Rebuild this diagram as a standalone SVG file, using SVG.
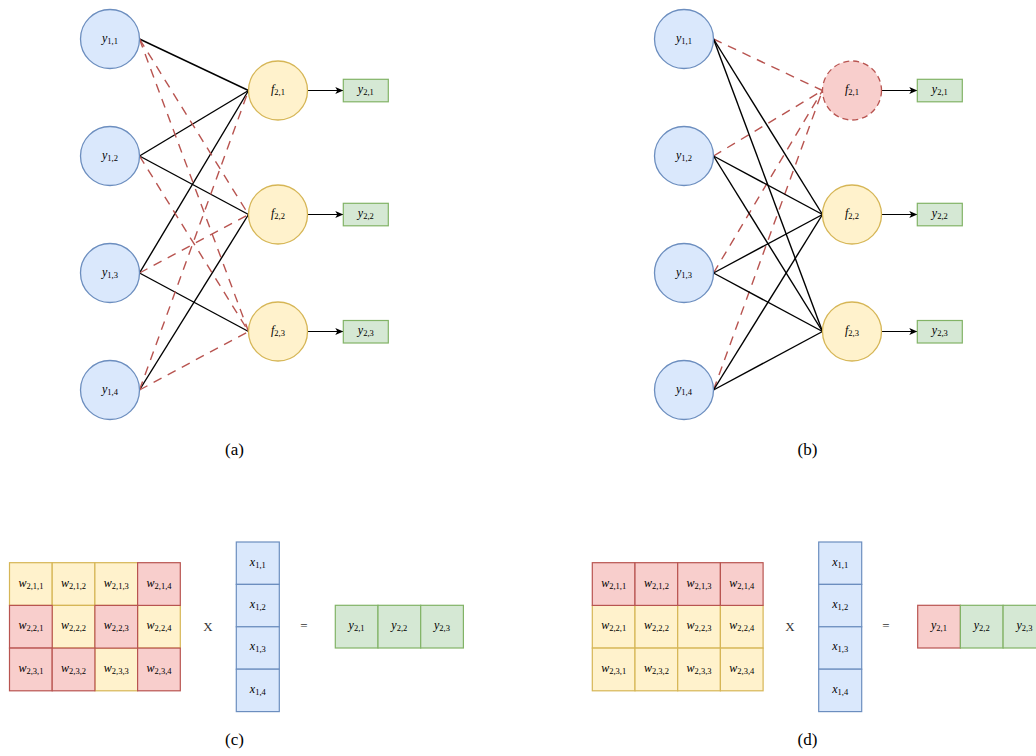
<svg xmlns="http://www.w3.org/2000/svg" width="1036" height="756" viewBox="0 0 1036 756">
<defs>
<marker id="arr" markerWidth="9" markerHeight="8" refX="8" refY="3.5" orient="auto" markerUnits="userSpaceOnUse">
<path d="M0,0 L8,3.5 L0,7 L2,3.5 Z" fill="#000"/>
</marker>
</defs>
<style>
.in{fill:#dae8fc;stroke:#6c8ebf;stroke-width:1.3}
.fn{fill:#fff2cc;stroke:#d6b656;stroke-width:1.3}
.fr{fill:#f8cecc;stroke:#b85450;stroke-width:1.3;stroke-dasharray:6 4}
.gr{fill:#d5e8d4;stroke:#82b366;stroke-width:1.2}
.ye{fill:#fff2cc;stroke:#d6b656;stroke-width:1.2}
.re{fill:#f8cecc;stroke:#b85450;stroke-width:1.2}
.bl{fill:#dae8fc;stroke:#6c8ebf;stroke-width:1.2}
.s{stroke:#000;stroke-width:1.4;fill:none}
.d{stroke:#b85450;stroke-width:1.4;stroke-dasharray:9 7;fill:none}
.o{stroke:#000;stroke-width:1.2;fill:none;marker-end:url(#arr)}
.m{font-family:"Liberation Serif",serif;font-size:12px;text-anchor:middle;fill:#000}
.v{font-style:italic}
.sb{font-size:8.5px}
.cap{font-family:"Liberation Serif",serif;font-size:17px;text-anchor:middle;fill:#000}
.op{font-family:"Liberation Serif",serif;font-size:13px;text-anchor:middle;fill:#333}
</style>

<g id="connectors">
<line class="s" x1="139.5" y1="39" x2="248.5" y2="90.5"/>
<line class="s" x1="139.5" y1="156" x2="248.5" y2="90.5"/>
<line class="s" x1="139.5" y1="273" x2="248.5" y2="90.5"/>
<line class="s" x1="139.5" y1="156" x2="248.5" y2="214.5"/>
<line class="s" x1="139.5" y1="390" x2="248.5" y2="214.5"/>
<line class="s" x1="139.5" y1="273" x2="248.5" y2="331.5"/>
<line class="d" x1="139.5" y1="390" x2="248.5" y2="90.5"/>
<line class="d" x1="139.5" y1="39" x2="248.5" y2="214.5"/>
<line class="d" x1="139.5" y1="273" x2="248.5" y2="214.5"/>
<line class="d" x1="139.5" y1="39" x2="248.5" y2="331.5"/>
<line class="d" x1="139.5" y1="156" x2="248.5" y2="331.5"/>
<line class="d" x1="139.5" y1="390" x2="248.5" y2="331.5"/>
<line class="o" x1="307.5" y1="90.5" x2="343.3" y2="90.5"/>
<line class="o" x1="307.5" y1="214.5" x2="343.3" y2="214.5"/>
<line class="o" x1="307.5" y1="331.5" x2="343.3" y2="331.5"/>
<line class="d" x1="713.5" y1="39" x2="822.5" y2="90.5"/>
<line class="d" x1="713.5" y1="156" x2="822.5" y2="90.5"/>
<line class="d" x1="713.5" y1="273" x2="822.5" y2="90.5"/>
<line class="d" x1="713.5" y1="390" x2="822.5" y2="90.5"/>
<line class="s" x1="713.5" y1="39" x2="822.5" y2="214.5"/>
<line class="s" x1="713.5" y1="156" x2="822.5" y2="214.5"/>
<line class="s" x1="713.5" y1="273" x2="822.5" y2="214.5"/>
<line class="s" x1="713.5" y1="390" x2="822.5" y2="214.5"/>
<line class="s" x1="713.5" y1="39" x2="822.5" y2="331.5"/>
<line class="s" x1="713.5" y1="156" x2="822.5" y2="331.5"/>
<line class="s" x1="713.5" y1="273" x2="822.5" y2="331.5"/>
<line class="s" x1="713.5" y1="390" x2="822.5" y2="331.5"/>
<line class="o" x1="881.5" y1="90.5" x2="917.3" y2="90.5"/>
<line class="o" x1="881.5" y1="214.5" x2="917.3" y2="214.5"/>
<line class="o" x1="881.5" y1="331.5" x2="917.3" y2="331.5"/>
</g>

<g id="a-y11"><circle class="in" cx="110" cy="39" r="29.5"/><text class="m" x="110" y="41.5"><tspan class="v">y</tspan><tspan class="sb" dy="2">1,1</tspan></text></g>
<g id="a-y12"><circle class="in" cx="110" cy="156" r="29.5"/><text class="m" x="110" y="158.5"><tspan class="v">y</tspan><tspan class="sb" dy="2">1,2</tspan></text></g>
<g id="a-y13"><circle class="in" cx="110" cy="273" r="29.5"/><text class="m" x="110" y="275.5"><tspan class="v">y</tspan><tspan class="sb" dy="2">1,3</tspan></text></g>
<g id="a-y14"><circle class="in" cx="110" cy="390" r="29.5"/><text class="m" x="110" y="392.5"><tspan class="v">y</tspan><tspan class="sb" dy="2">1,4</tspan></text></g>
<g id="a-f21"><circle class="fn" cx="278" cy="90.5" r="29.5"/><text class="m" x="278" y="93"><tspan class="v">f</tspan><tspan class="sb" dy="2">2,1</tspan></text></g>
<g id="a-f22"><circle class="fn" cx="278" cy="214.5" r="29.5"/><text class="m" x="278" y="217"><tspan class="v">f</tspan><tspan class="sb" dy="2">2,2</tspan></text></g>
<g id="a-f23"><circle class="fn" cx="278" cy="331.5" r="29.5"/><text class="m" x="278" y="334"><tspan class="v">f</tspan><tspan class="sb" dy="2">2,3</tspan></text></g>
<g id="a-o21"><rect class="gr" x="343.3" y="79.3" width="45" height="22.5"/><text class="m" x="365.8" y="92.5"><tspan class="v">y</tspan><tspan class="sb" dy="2">2,1</tspan></text></g>
<g id="a-o22"><rect class="gr" x="343.3" y="203.3" width="45" height="22.5"/><text class="m" x="365.8" y="216.5"><tspan class="v">y</tspan><tspan class="sb" dy="2">2,2</tspan></text></g>
<g id="a-o23"><rect class="gr" x="343.3" y="320.5" width="45" height="22.5"/><text class="m" x="365.8" y="333.5"><tspan class="v">y</tspan><tspan class="sb" dy="2">2,3</tspan></text></g>
<text class="cap" x="234.5" y="455">(a)</text>

<g id="b-y11"><circle class="in" cx="684" cy="39" r="29.5"/><text class="m" x="684" y="41.5"><tspan class="v">y</tspan><tspan class="sb" dy="2">1,1</tspan></text></g>
<g id="b-y12"><circle class="in" cx="684" cy="156" r="29.5"/><text class="m" x="684" y="158.5"><tspan class="v">y</tspan><tspan class="sb" dy="2">1,2</tspan></text></g>
<g id="b-y13"><circle class="in" cx="684" cy="273" r="29.5"/><text class="m" x="684" y="275.5"><tspan class="v">y</tspan><tspan class="sb" dy="2">1,3</tspan></text></g>
<g id="b-y14"><circle class="in" cx="684" cy="390" r="29.5"/><text class="m" x="684" y="392.5"><tspan class="v">y</tspan><tspan class="sb" dy="2">1,4</tspan></text></g>
<g id="b-f21"><circle class="fr" cx="852" cy="90.5" r="29.5"/><text class="m" x="852" y="93"><tspan class="v">f</tspan><tspan class="sb" dy="2">2,1</tspan></text></g>
<g id="b-f22"><circle class="fn" cx="852" cy="214.5" r="29.5"/><text class="m" x="852" y="217"><tspan class="v">f</tspan><tspan class="sb" dy="2">2,2</tspan></text></g>
<g id="b-f23"><circle class="fn" cx="852" cy="331.5" r="29.5"/><text class="m" x="852" y="334"><tspan class="v">f</tspan><tspan class="sb" dy="2">2,3</tspan></text></g>
<g id="b-o21"><rect class="gr" x="917.3" y="79.3" width="45" height="22.5"/><text class="m" x="939.8" y="92.5"><tspan class="v">y</tspan><tspan class="sb" dy="2">2,1</tspan></text></g>
<g id="b-o22"><rect class="gr" x="917.3" y="203.3" width="45" height="22.5"/><text class="m" x="939.8" y="216.5"><tspan class="v">y</tspan><tspan class="sb" dy="2">2,2</tspan></text></g>
<g id="b-o23"><rect class="gr" x="917.3" y="320.5" width="45" height="22.5"/><text class="m" x="939.8" y="333.5"><tspan class="v">y</tspan><tspan class="sb" dy="2">2,3</tspan></text></g>
<text class="cap" x="807.5" y="455">(b)</text>

<g id="c-matrix">
<rect class="ye" x="9.5" y="562.7" width="42.7" height="42.7"/>
<rect class="ye" x="52.2" y="562.7" width="42.7" height="42.7"/>
<rect class="ye" x="94.9" y="562.7" width="42.7" height="42.7"/>
<rect class="ye" x="52.2" y="605.4" width="42.7" height="42.7"/>
<rect class="ye" x="137.6" y="605.4" width="42.7" height="42.7"/>
<rect class="ye" x="94.9" y="648.1" width="42.7" height="42.7"/>
<rect class="re" x="137.6" y="562.7" width="42.7" height="42.7"/>
<rect class="re" x="9.5" y="605.4" width="42.7" height="42.7"/>
<rect class="re" x="94.9" y="605.4" width="42.7" height="42.7"/>
<rect class="re" x="9.5" y="648.1" width="42.7" height="42.7"/>
<rect class="re" x="52.2" y="648.1" width="42.7" height="42.7"/>
<rect class="re" x="137.6" y="648.1" width="42.7" height="42.7"/>
<text class="m" x="30.9" y="586.5"><tspan class="v">w</tspan><tspan class="sb" dy="2">2,1,1</tspan></text>
<text class="m" x="73.6" y="586.5"><tspan class="v">w</tspan><tspan class="sb" dy="2">2,1,2</tspan></text>
<text class="m" x="116.3" y="586.5"><tspan class="v">w</tspan><tspan class="sb" dy="2">2,1,3</tspan></text>
<text class="m" x="159" y="586.5"><tspan class="v">w</tspan><tspan class="sb" dy="2">2,1,4</tspan></text>
<text class="m" x="30.9" y="629.2"><tspan class="v">w</tspan><tspan class="sb" dy="2">2,2,1</tspan></text>
<text class="m" x="73.6" y="629.2"><tspan class="v">w</tspan><tspan class="sb" dy="2">2,2,2</tspan></text>
<text class="m" x="116.3" y="629.2"><tspan class="v">w</tspan><tspan class="sb" dy="2">2,2,3</tspan></text>
<text class="m" x="159" y="629.2"><tspan class="v">w</tspan><tspan class="sb" dy="2">2,2,4</tspan></text>
<text class="m" x="30.9" y="671.9"><tspan class="v">w</tspan><tspan class="sb" dy="2">2,3,1</tspan></text>
<text class="m" x="73.6" y="671.9"><tspan class="v">w</tspan><tspan class="sb" dy="2">2,3,2</tspan></text>
<text class="m" x="116.3" y="671.9"><tspan class="v">w</tspan><tspan class="sb" dy="2">2,3,3</tspan></text>
<text class="m" x="159" y="671.9"><tspan class="v">w</tspan><tspan class="sb" dy="2">2,3,4</tspan></text>
</g>
<text class="op" x="208" y="631">X</text>
<g id="c-x">
<rect class="bl" x="236.3" y="542" width="43" height="42.4"/>
<rect class="bl" x="236.3" y="584.4" width="43" height="42.4"/>
<rect class="bl" x="236.3" y="626.8" width="43" height="42.4"/>
<rect class="bl" x="236.3" y="669.2" width="43" height="42.4"/>
<text class="m" x="257.8" y="565.5"><tspan class="v">x</tspan><tspan class="sb" dy="2">1,1</tspan></text>
<text class="m" x="257.8" y="607.9"><tspan class="v">x</tspan><tspan class="sb" dy="2">1,2</tspan></text>
<text class="m" x="257.8" y="650.3"><tspan class="v">x</tspan><tspan class="sb" dy="2">1,3</tspan></text>
<text class="m" x="257.8" y="692.7"><tspan class="v">x</tspan><tspan class="sb" dy="2">1,4</tspan></text>
</g>
<text class="op" x="304" y="630">=</text>
<g id="c-y">
<rect class="gr" x="335.3" y="605.3" width="42.7" height="42.7"/>
<rect class="gr" x="378" y="605.3" width="42.7" height="42.7"/>
<rect class="gr" x="420.7" y="605.3" width="42.7" height="42.7"/>
<text class="m" x="356.6" y="629"><tspan class="v">y</tspan><tspan class="sb" dy="2">2,1</tspan></text>
<text class="m" x="399.3" y="629"><tspan class="v">y</tspan><tspan class="sb" dy="2">2,2</tspan></text>
<text class="m" x="442" y="629"><tspan class="v">y</tspan><tspan class="sb" dy="2">2,3</tspan></text>
</g>
<text class="cap" x="234.5" y="745">(c)</text>

<g id="d-matrix">
<rect class="ye" x="592.3" y="605.4" width="42.7" height="42.7"/>
<rect class="ye" x="635" y="605.4" width="42.7" height="42.7"/>
<rect class="ye" x="677.7" y="605.4" width="42.7" height="42.7"/>
<rect class="ye" x="720.4" y="605.4" width="42.7" height="42.7"/>
<rect class="ye" x="592.3" y="648.1" width="42.7" height="42.7"/>
<rect class="ye" x="635" y="648.1" width="42.7" height="42.7"/>
<rect class="ye" x="677.7" y="648.1" width="42.7" height="42.7"/>
<rect class="ye" x="720.4" y="648.1" width="42.7" height="42.7"/>
<rect class="re" x="592.3" y="562.7" width="42.7" height="42.7"/>
<rect class="re" x="635" y="562.7" width="42.7" height="42.7"/>
<rect class="re" x="677.7" y="562.7" width="42.7" height="42.7"/>
<rect class="re" x="720.4" y="562.7" width="42.7" height="42.7"/>
<text class="m" x="613.7" y="586.5"><tspan class="v">w</tspan><tspan class="sb" dy="2">2,1,1</tspan></text>
<text class="m" x="656.4" y="586.5"><tspan class="v">w</tspan><tspan class="sb" dy="2">2,1,2</tspan></text>
<text class="m" x="699.1" y="586.5"><tspan class="v">w</tspan><tspan class="sb" dy="2">2,1,3</tspan></text>
<text class="m" x="741.8" y="586.5"><tspan class="v">w</tspan><tspan class="sb" dy="2">2,1,4</tspan></text>
<text class="m" x="613.7" y="629.2"><tspan class="v">w</tspan><tspan class="sb" dy="2">2,2,1</tspan></text>
<text class="m" x="656.4" y="629.2"><tspan class="v">w</tspan><tspan class="sb" dy="2">2,2,2</tspan></text>
<text class="m" x="699.1" y="629.2"><tspan class="v">w</tspan><tspan class="sb" dy="2">2,2,3</tspan></text>
<text class="m" x="741.8" y="629.2"><tspan class="v">w</tspan><tspan class="sb" dy="2">2,2,4</tspan></text>
<text class="m" x="613.7" y="671.9"><tspan class="v">w</tspan><tspan class="sb" dy="2">2,3,1</tspan></text>
<text class="m" x="656.4" y="671.9"><tspan class="v">w</tspan><tspan class="sb" dy="2">2,3,2</tspan></text>
<text class="m" x="699.1" y="671.9"><tspan class="v">w</tspan><tspan class="sb" dy="2">2,3,3</tspan></text>
<text class="m" x="741.8" y="671.9"><tspan class="v">w</tspan><tspan class="sb" dy="2">2,3,4</tspan></text>
</g>
<text class="op" x="790" y="631">X</text>
<g id="d-x">
<rect class="bl" x="818.7" y="542" width="43" height="42.4"/>
<rect class="bl" x="818.7" y="584.4" width="43" height="42.4"/>
<rect class="bl" x="818.7" y="626.8" width="43" height="42.4"/>
<rect class="bl" x="818.7" y="669.2" width="43" height="42.4"/>
<text class="m" x="840.2" y="565.5"><tspan class="v">x</tspan><tspan class="sb" dy="2">1,1</tspan></text>
<text class="m" x="840.2" y="607.9"><tspan class="v">x</tspan><tspan class="sb" dy="2">1,2</tspan></text>
<text class="m" x="840.2" y="650.3"><tspan class="v">x</tspan><tspan class="sb" dy="2">1,3</tspan></text>
<text class="m" x="840.2" y="692.7"><tspan class="v">x</tspan><tspan class="sb" dy="2">1,4</tspan></text>
</g>
<text class="op" x="886" y="630">=</text>
<g id="d-y">
<rect class="re" x="917.7" y="605.3" width="42.7" height="42.7"/>
<rect class="gr" x="960.4" y="605.3" width="42.7" height="42.7"/>
<rect class="gr" x="1003.1" y="605.3" width="42.7" height="42.7"/>
<text class="m" x="939" y="629"><tspan class="v">y</tspan><tspan class="sb" dy="2">2,1</tspan></text>
<text class="m" x="981.7" y="629"><tspan class="v">y</tspan><tspan class="sb" dy="2">2,2</tspan></text>
<text class="m" x="1024.4" y="629"><tspan class="v">y</tspan><tspan class="sb" dy="2">2,3</tspan></text>
</g>
<text class="cap" x="807.5" y="745">(d)</text>
</svg>
